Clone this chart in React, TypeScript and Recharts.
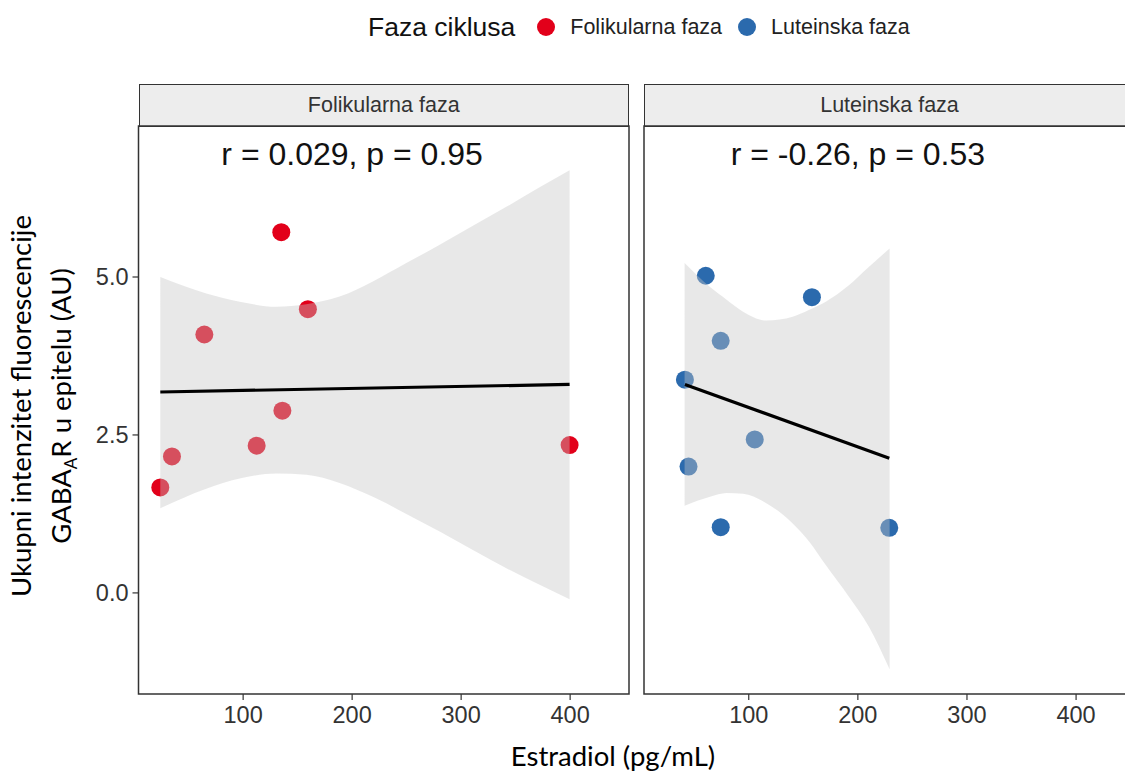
import React from 'react';
import { ComposedChart, Scatter, Area, Line, XAxis, YAxis, ReferenceArea, ReferenceDot } from 'recharts';

// ---------- data ----------
const legendTitle = 'Faza ciklusa';
const phases = ['Folikularna faza', 'Luteinska faza'];
const phaseColors = ['#E2001A', '#2B6AAD'];
const annotations = ['r = 0.029, p = 0.95', 'r = -0.26, p = 0.53'];
const annotationPos = [200, 6.96];

const xTicks = [100, 200, 300, 400];
const yTicks = [0, 2.5, 5];
const xDomain = [4, 454];
const yDomain = [-1.6, 7.39];

const folX = [24, 34.7, 64.4, 112.4, 135, 136, 159.4, 399.5];
const folY = [1.67, 2.16, 4.09, 2.33, 5.71, 2.885, 4.49, 2.34];
const lutX = [41.5, 44.8, 60.6, 74.3, 74.3, 105.5, 157.9, 228.8];
const lutY = [3.375, 2.0, 5.02, 3.99, 1.04, 2.43, 4.68, 1.03];

const folFitX = [24, 399.5];
const folFitY = [3.18, 3.3];
const lutFitX = [41.5, 228.8];
const lutFitY = [3.3, 2.13];

const folBandX = [24, 66.2, 96.8, 130.5, 158, 188.5, 219, 249.7, 280.3, 310.8, 341.5, 372, 399.5];
const folBandHi = [5.0, 4.74, 4.61, 4.53, 4.57, 4.69, 4.93, 5.22, 5.51, 5.81, 6.11, 6.42, 6.69];
const folBandLo = [1.34, 1.65, 1.81, 1.89, 1.87, 1.74, 1.52, 1.25, 0.97, 0.68, 0.39, 0.13, -0.1];

const lutBandX = [41.2, 64.5, 79.7, 94.8, 116.1, 140.3, 155.5, 170.6, 191.8, 210, 229.1];
const lutBandHi = [5.22, 4.84, 4.64, 4.45, 4.31, 4.37, 4.48, 4.61, 4.87, 5.16, 5.45];
const lutBandLo = [1.38, 1.52, 1.58, 1.57, 1.42, 1.1, 0.81, 0.44, -0.06, -0.53, -1.21];

const xTitle = 'Estradiol (pg/mL)';
const yTitle1 = 'Ukupni intenzitet fluorescencije';

// ---------- build series ----------
const pointsBy = [
  folX.map((x, i) => ({ x, y: folY[i] })),
  lutX.map((x, i) => ({ x, y: lutY[i] })),
];
const fitBy = [
  folFitX.map((x, i) => ({ x, fit: folFitY[i] })),
  lutFitX.map((x, i) => ({ x, fit: lutFitY[i] })),
];
const bandBy = [
  folBandX.map((x, i) => ({ x, band: [folBandLo[i], folBandHi[i]] })),
  lutBandX.map((x, i) => ({ x, band: [lutBandLo[i], lutBandHi[i]] })),
];

const ARIAL = '"Liberation Sans", Arial, Helvetica, sans-serif';
const LATO = 'Lato, "Open Sans", sans-serif';
const CH = 772;
const PLOT_TOP = 126;
const PLOT_BOTTOM = 694;
const XAXIS_H = 40;

const YTitle = (props: any) => {
  const vb = props.viewBox || {};
  const cy = (vb.y ?? PLOT_TOP) + (vb.height ?? PLOT_BOTTOM - PLOT_TOP) / 2 - 4;
  return (
    <g>
      <text x={31} y={cy} transform={`rotate(-90, 31, ${cy})`} textAnchor="middle" fontFamily={LATO} fontSize={27.5} fill="#000">
        {yTitle1}
      </text>
      <text x={71} y={cy} transform={`rotate(-90, 71, ${cy})`} textAnchor="middle" fontFamily={LATO} fontSize={27.5} fill="#000">
        <tspan>GABA</tspan>
        <tspan fontSize={17} dy={6}>A</tspan>
        <tspan dy={-6}>R u epitelu (AU)</tspan>
      </text>
    </g>
  );
};

type PanelProps = { idx: number; left: number; svgWidth: number; mLeft: number; mRight: number; showY: boolean };

function Panel({ idx, left, svgWidth, mLeft, mRight, showY }: PanelProps) {
  const margin = { top: PLOT_TOP, right: mRight, bottom: CH - PLOT_BOTTOM - XAXIS_H, left: mLeft };
  const color = phaseColors[idx];
  const yW = showY ? 138 : 0;
  const plotLeft = left + mLeft + yW;
  const plotW = svgWidth - mLeft - mRight - yW;
  const common = { width: svgWidth, height: CH, margin };
  const tickStyle = { fontSize: 23.5, fill: '#333', fontFamily: ARIAL };
  return (
    <>
      {/* strip */}
      <div
        style={{
          position: 'absolute', left: plotLeft, top: 84, width: plotW, height: 43, boxSizing: 'border-box',
          border: '1.5px solid #333', background: '#EDEDED', display: 'flex', alignItems: 'center',
          justifyContent: 'center', fontFamily: ARIAL, fontSize: 21.5, color: '#333',
        }}
      >
        {phases[idx]}
      </div>
      {/* base layer: axes, points */}
      <div style={{ position: 'absolute', left, top: 0 }}>
        <ComposedChart {...common}>
          <XAxis
            type="number" dataKey="x" domain={xDomain} ticks={xTicks} allowDataOverflow height={XAXIS_H}
            axisLine={false} tickSize={6} tickMargin={6} tickLine={{ stroke: '#333', strokeWidth: 1.2 }}
            tick={tickStyle}
          />
          <YAxis
            type="number" dataKey="y" domain={yDomain} ticks={yTicks} allowDataOverflow hide={!showY} width={yW}
            axisLine={false} tickSize={6} tickMargin={4} tickLine={{ stroke: '#333', strokeWidth: 1.2 }}
            tick={tickStyle}
            tickFormatter={(v: number) => v.toFixed(1)}
            label={showY ? { content: YTitle } : undefined}
          />
          <Scatter
            data={pointsBy[idx]} isAnimationActive={false} fill={color}
            shape={(p: any) => <circle cx={p.cx} cy={p.cy} r={9} fill={color} />}
          />
          <ReferenceDot
            x={annotationPos[0]} y={annotationPos[1]} r={0} fill="none" stroke="none"
            label={{ value: annotations[idx], position: 'center', fontSize: 32, fill: '#111', fontFamily: ARIAL }}
          />
        </ComposedChart>
      </div>
      {/* overlay: band + fit line + border */}
      <div style={{ position: 'absolute', left, top: 0 }}>
        <ComposedChart {...common}>
          <XAxis type="number" dataKey="x" domain={xDomain} ticks={xTicks} allowDataOverflow height={XAXIS_H} tick={false} axisLine={false} tickLine={false} />
          <YAxis type="number" domain={yDomain} ticks={yTicks} allowDataOverflow hide={!showY} width={yW} tick={false} axisLine={false} tickLine={false} />
          <Area
            data={bandBy[idx]} dataKey="band" type="monotone" isAnimationActive={false}
            fill="#C6C6C6" fillOpacity={0.4} stroke="none" activeDot={false}
          />
          <Line
            data={fitBy[idx]} dataKey="fit" type="linear" isAnimationActive={false}
            stroke="#000" strokeWidth={3.2} dot={false} activeDot={false}
          />
          <ReferenceArea
            x1={xDomain[0]} x2={xDomain[1]} y1={yDomain[0]} y2={yDomain[1]} ifOverflow="visible"
            fill="none" fillOpacity={0} stroke="#333" strokeWidth={1.5}
          />
        </ComposedChart>
      </div>
    </>
  );
}

function LegendBar() {
  return (
    <div
      style={{
        position: 'absolute', left: 368, top: 12, height: 30, display: 'flex', alignItems: 'center',
        fontFamily: ARIAL, color: '#111', whiteSpace: 'nowrap',
      }}
    >
      <span style={{ fontSize: 26.5, marginRight: 22 }}>{legendTitle}</span>
      {phases.map((p, i) => (
        <React.Fragment key={p}>
          <span style={{ width: 18, height: 18, borderRadius: 9, background: phaseColors[i], display: 'inline-block' }} />
          <span style={{ fontSize: 21.5, marginLeft: 15, marginRight: 16, color: '#222' }}>{p}</span>
        </React.Fragment>
      ))}
    </div>
  );
}

export default function App() {
  return (
    <div style={{ position: 'absolute', left: 0, top: 0, width: 1125, height: 772, overflow: 'hidden', background: '#fff' }}>
      <LegendBar />
      <Panel idx={0} left={0} svgWidth={640} mLeft={0.5} mRight={11} showY />
      <Panel idx={1} left={640} svgWidth={500} mLeft={4} mRight={5} showY={false} />
      <div
        style={{
          position: 'absolute', left: 413, width: 400, top: 739, textAlign: 'center',
          fontFamily: LATO, fontSize: 27.5, color: '#000',
        }}
      >
        {xTitle}
      </div>
    </div>
  );
}
